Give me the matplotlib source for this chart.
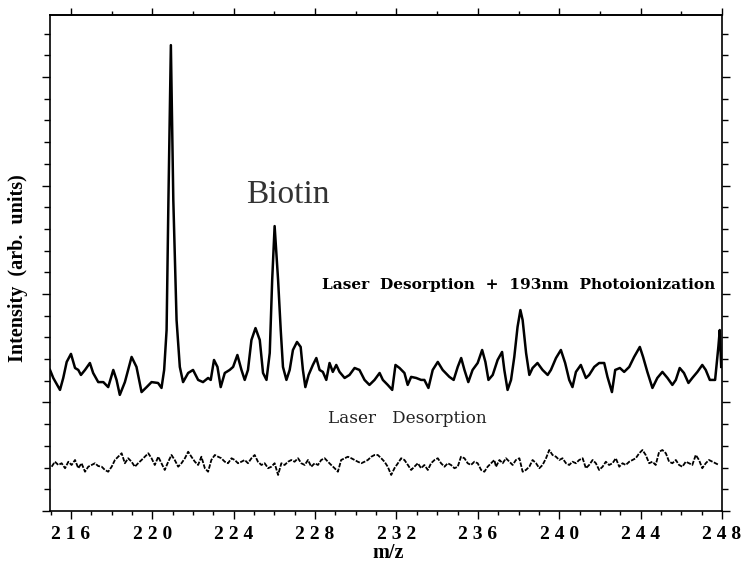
import matplotlib.pyplot as plt
from matplotlib.ticker import MultipleLocator, FixedLocator, FixedFormatter, NullFormatter

# Laser desorption + 193 nm photoionization trace (upper)
upper_mz = [214.97, 215.13, 215.46, 215.62, 215.79, 216.00, 216.20, 216.36, 216.49, 216.69,
            216.93, 217.09, 217.34, 217.59, 217.83, 218.08, 218.24, 218.40, 218.65, 218.98,
            219.22, 219.47, 219.72, 219.96, 220.28, 220.45, 220.58, 220.70, 220.79, 220.91,
            221.03, 221.19, 221.35, 221.51, 221.76, 222.00, 222.25, 222.49, 222.74, 222.87,
            223.03, 223.20, 223.36, 223.56, 223.80, 223.97, 224.18, 224.38, 224.54, 224.70,
            224.87, 225.07, 225.28, 225.44, 225.61, 225.77, 225.89, 226.01, 226.18, 226.31,
            226.42, 226.59, 226.75, 226.91, 227.11, 227.29, 227.40, 227.52, 227.68, 227.89,
            228.06, 228.22, 228.38, 228.55, 228.71, 228.87, 229.04, 229.20, 229.45, 229.69,
            229.94, 230.18, 230.43, 230.67, 230.92, 231.17, 231.33, 231.57, 231.79, 231.95,
            232.15, 232.39, 232.55, 232.72, 232.97, 233.21, 233.37, 233.57, 233.78, 234.03,
            234.27, 234.60, 234.81, 235.01, 235.18, 235.34, 235.53, 235.74, 235.99, 236.21,
            236.37, 236.52, 236.73, 236.97, 237.19, 237.30, 237.46, 237.63, 237.79, 237.95,
            238.09, 238.20, 238.37, 238.53, 238.69, 238.93, 239.18, 239.43, 239.59, 239.84,
            240.08, 240.29, 240.49, 240.65, 240.82, 241.06, 241.31, 241.47, 241.72, 241.96,
            242.21, 242.37, 242.59, 242.75, 242.98, 243.19, 243.44, 243.68, 243.96, 244.12,
            244.33, 244.58, 244.82, 245.07, 245.32, 245.56, 245.73, 245.92, 246.13, 246.35,
            246.54, 246.79, 247.03, 247.20, 247.40, 247.66, 247.82, 247.89, 247.96]
upper_int = [6.50, 6.13, 5.58, 6.13, 6.87, 7.24, 6.59, 6.50, 6.27, 6.50,
             6.82, 6.36, 5.94, 5.94, 5.71, 6.50, 6.04, 5.35, 5.94, 7.10,
             6.64, 5.48, 5.71, 5.94, 5.90, 5.67, 6.50, 8.34, 14.33, 21.47,
             14.33, 8.80, 6.64, 5.94, 6.36, 6.50, 6.04, 5.94, 6.13, 6.04,
             6.96, 6.64, 5.71, 6.36, 6.50, 6.64, 7.19, 6.50, 6.04, 6.50,
             7.88, 8.43, 7.88, 6.36, 6.04, 7.28, 10.65, 13.13, 10.65, 8.34,
             6.64, 6.04, 6.50, 7.42, 7.79, 7.56, 6.50, 5.71, 6.27, 6.73,
             7.05, 6.50, 6.41, 6.04, 6.82, 6.41, 6.73, 6.41, 6.13, 6.27,
             6.59, 6.50, 6.04, 5.81, 6.04, 6.36, 6.04, 5.81, 5.58, 6.73,
             6.59, 6.36, 5.81, 6.18, 6.13, 6.04, 6.04, 5.67, 6.50, 6.87,
             6.50, 6.18, 6.04, 6.64, 7.05, 6.50, 5.94, 6.50, 6.82, 7.42,
             6.87, 6.04, 6.27, 6.96, 7.33, 6.50, 5.58, 6.04, 7.10, 8.48,
             9.26, 8.80, 7.28, 6.27, 6.59, 6.82, 6.50, 6.27, 6.50, 7.05,
             7.42, 6.82, 6.04, 5.71, 6.41, 6.73, 6.13, 6.27, 6.64, 6.82,
             6.82, 6.18, 5.48, 6.50, 6.59, 6.41, 6.64, 7.10, 7.56, 7.10,
             6.41, 5.67, 6.13, 6.41, 6.13, 5.81, 6.04, 6.59, 6.36, 5.90,
             6.13, 6.41, 6.73, 6.50, 6.04, 6.04, 7.56, 8.34, 6.64]

# Laser desorption only (lower)
lower_mz = [215.05, 215.21, 215.38, 215.54, 215.71, 215.87, 216.03, 216.20, 216.36, 216.52,
            216.69, 216.85, 217.01, 217.18, 217.34, 217.51, 217.67, 217.83, 218.00, 218.16,
            218.32, 218.49, 218.65, 218.81, 218.98, 219.14, 219.30, 219.47, 219.63, 219.80,
            219.96, 220.12, 220.29, 220.45, 220.61, 220.78, 220.94, 221.10, 221.27, 221.43,
            221.60, 221.76, 221.92, 222.09, 222.25, 222.41, 222.58, 222.74, 222.90, 223.07,
            223.23, 223.39, 223.56, 223.72, 223.89, 224.05, 224.21, 224.38, 224.54, 224.70,
            224.87, 225.03, 225.19, 225.36, 225.52, 225.69, 225.85, 226.01,
            226.18, 226.34, 226.50, 226.67, 226.83, 226.99, 227.16, 227.32, 227.49, 227.65,
            227.81, 227.98, 228.14, 228.30, 228.47, 228.63, 228.79, 228.96, 229.12, 229.28,
            229.45, 229.61, 229.78, 229.94, 230.10, 230.27, 230.43, 230.59, 230.76, 230.92,
            231.08, 231.25, 231.41, 231.57, 231.74, 231.90, 232.07, 232.23, 232.39, 232.56,
            232.72, 232.88, 233.05, 233.21, 233.37, 233.54, 233.70, 233.87, 234.03, 234.19,
            234.36, 234.52, 234.68, 234.85, 235.01, 235.17, 235.34, 235.50, 235.66, 235.83,
            235.99, 236.16, 236.32, 236.48, 236.65, 236.81,
            236.89, 237.06, 237.22, 237.38, 237.55, 237.71, 237.87, 238.04, 238.20, 238.36,
            238.53, 238.69, 238.86, 239.02, 239.18, 239.35, 239.51, 239.67, 239.84, 240.00,
            240.16, 240.33, 240.49, 240.65, 240.82, 240.98, 241.15, 241.31, 241.47, 241.64,
            241.80, 241.96, 242.13, 242.29, 242.45, 242.62, 242.78, 242.95, 243.11, 243.27,
            243.44, 243.60, 243.76, 243.93, 244.09, 244.25, 244.42, 244.58, 244.74, 244.91,
            245.07, 245.24, 245.40, 245.56, 245.73, 245.89, 246.05, 246.22, 246.38, 246.54,
            246.71, 246.87, 247.03, 247.20, 247.36, 247.53, 247.69, 247.85]
lower_int = [2.04, 2.27, 2.12, 2.20, 1.97, 2.27, 2.12, 2.35, 1.97, 2.20,
             1.81, 2.04, 2.12, 2.20, 2.07, 2.04, 1.89, 1.81, 2.04, 2.35,
             2.50, 2.66, 2.20, 2.43, 2.27, 2.04, 2.20, 2.35, 2.50, 2.66,
             2.43, 2.12, 2.50, 2.20, 1.89, 2.27, 2.58, 2.35, 2.04, 2.20,
             2.43, 2.73, 2.50, 2.27, 2.12, 2.50, 1.97, 1.81, 2.35, 2.58,
             2.50, 2.43, 2.27, 2.20, 2.43, 2.35, 2.20, 2.27, 2.35, 2.20,
             2.43, 2.58, 2.27, 2.12, 2.20, 1.97, 2.04, 2.20,
             1.66, 2.20, 2.12, 2.27, 2.35, 2.27, 2.43, 2.20, 2.12, 2.35,
             2.04, 2.20, 2.12, 2.35, 2.43, 2.27, 2.12, 1.97, 1.81, 2.35,
             2.43, 2.50, 2.43, 2.35, 2.27, 2.20, 2.27, 2.35, 2.50, 2.58,
             2.58, 2.43, 2.27, 2.04, 1.66, 1.97, 2.20, 2.43, 2.35, 2.12,
             1.89, 2.04, 2.20, 1.97, 2.12, 1.89, 2.20, 2.35, 2.43, 2.20,
             2.04, 2.20, 2.12, 1.97, 2.04, 2.50, 2.43, 2.20, 2.12, 2.27,
             2.20, 1.89, 1.81, 2.04, 2.20, 2.35,
             2.04, 2.35, 2.20, 2.43, 2.27, 2.12, 2.35, 2.43, 1.81, 1.89,
             2.04, 2.35, 2.20, 1.97, 2.12, 2.43, 2.81, 2.58, 2.50, 2.35,
             2.43, 2.20, 2.12, 2.27, 2.20, 2.35, 2.43, 1.97, 2.12, 2.35,
             2.20, 1.89, 2.04, 2.27, 2.12, 2.20, 2.43, 2.04, 2.20, 2.12,
             2.27, 2.35, 2.43, 2.66, 2.81, 2.58, 2.20, 2.27, 2.12, 2.73,
             2.81, 2.66, 2.27, 2.20, 2.35, 2.12, 2.04, 2.27, 2.20, 2.12,
             2.58, 2.35, 1.97, 2.20, 2.35, 2.27, 2.20, 2.12]

xticks = [216, 220, 224, 228, 232, 236, 240, 244, 248]
xtick_labels = ["2 1 6", "2 2 0", "2 2 4", "2 2 8", "2 3 2", "2 3 6", "2 4 0", "2 4 4", "2 4 8"]

serif = ['Liberation Serif', 'DejaVu Serif']
wide_serif = ['DejaVu Serif']

fig = plt.figure(figsize=(7.51, 5.63), dpi=100)
ax = fig.add_axes([0.0666, 0.0924, 0.8948, 0.881])

ax.plot(upper_mz, upper_int, color='black', lw=1.8)
ax.plot(lower_mz, lower_int, color='black', lw=1.3, ls=(0, (2.5, 0.8)))

ax.set_xlim(214.97, 248.0)
ax.set_ylim(0, 22.86)

for s in ax.spines.values():
    s.set_linewidth(1.2)

# bottom axis
ax.xaxis.set_major_locator(FixedLocator(xticks))
ax.xaxis.set_major_formatter(FixedFormatter(xtick_labels))
ax.xaxis.set_minor_locator(MultipleLocator(1))
ax.tick_params(axis='x', which='major', direction='out', length=6, width=1, pad=5)
ax.tick_params(axis='x', which='minor', direction='out', length=3, width=1)
for lab in ax.get_xticklabels():
    lab.set_family(serif)
    lab.set_fontweight('bold')
    lab.set_fontsize(14)

# left / right axes
ax.yaxis.set_major_locator(MultipleLocator(5))
ax.yaxis.set_minor_locator(MultipleLocator(1))
ax.yaxis.set_major_formatter(NullFormatter())
ax.tick_params(axis='y', which='major', direction='out', length=6, width=1, right=True)
ax.tick_params(axis='y', which='minor', direction='out', length=4, width=1, right=True)

# top axis ticks
top = ax.secondary_xaxis('top')
top.xaxis.set_major_locator(MultipleLocator(4))
top.xaxis.set_minor_locator(MultipleLocator(2))
top.xaxis.set_major_formatter(NullFormatter())
top.tick_params(which='major', direction='out', length=5, width=1)
top.tick_params(which='minor', direction='out', length=3, width=1)
top.spines['top'].set_linewidth(1.2)

fig.text(388 / 751, 1 - 553 / 563, 'm/z', family=serif, fontweight='bold', fontsize=14.5,
         ha='center', va='center')
ax.set_ylabel('Intensity  (arb.  units)', family=serif, fontweight='bold', fontsize=14.5)
ax.yaxis.set_label_coords(-0.033, 0.49)

ax.text(226.65, 14.56, 'Biotin', family=serif, fontsize=24, color='#333333',
        ha='center', va='center')
ax.text(228.32, 10.41, 'Laser  Desorption  +  193nm  Photoionization', family=wide_serif,
        fontweight='bold', fontsize=11.1, ha='left', va='center')
ax.text(228.61, 4.24, 'Laser   Desorption', family=wide_serif, fontsize=12.2, color='#222222',
        ha='left', va='center')

fig.savefig('out.png', dpi=100)
